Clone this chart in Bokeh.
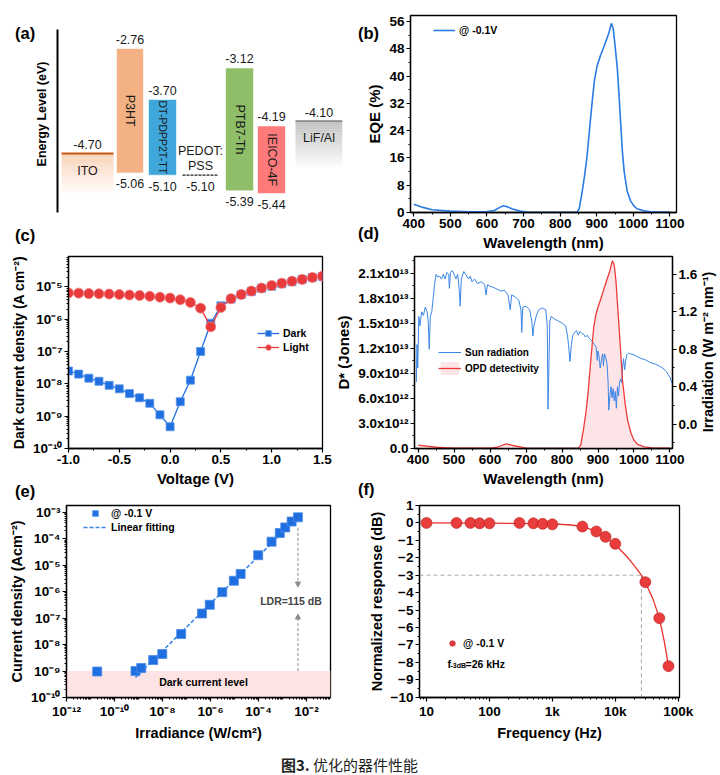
import math
from bokeh.plotting import figure
from bokeh.models import (Range1d, LinearAxis, FixedTicker, CustomJSTickFormatter,
                          PrintfTickFormatter, Label, Legend, LegendItem, BoxAnnotation,
                          Arrow, NormalHead, Div)
from bokeh.layouts import column, row
from bokeh.embed import file_html
from bokeh.resources import INLINE
from bokeh.core.properties import value

FONT = "Liberation Sans"

# ---------------- data ----------------
# (a) energy levels (eV)
semi_names = ["P3HT", "DT-PDPP2T-TT", "PTB7-Th", "IEICO-4F"]
semi_lumo = [-2.76, -3.70, -3.12, -4.19]
semi_homo = [-5.06, -5.10, -5.39, -5.44]
ito_level = -4.70
pedot_level = -5.10
lif_level = -4.10

# (b) EQE at -0.1 V
eqe_wl = [400, 425, 450, 500, 550, 600, 620, 635, 645, 655,
          670, 690, 710, 800, 845, 852, 860, 867, 873, 880,
          888, 894, 901, 910, 920, 933, 940, 945, 950, 956,
          960, 965, 970, 975, 983, 992, 1001, 1010, 1029, 1050,
          1100]
eqe_val = [2.4, 1.5, 0.8, 0.4, 0.2, 0.3, 0.6, 1.5, 2.0, 1.7,
           1.0, 0.4, 0.1, 0.05, 0.1, 1.0, 6.0, 11, 16, 24,
           33, 39, 43, 46, 48.8, 52.6, 55.5, 54, 49, 42.6,
           36, 27, 18, 12, 6.4, 3.5, 2.0, 1.1, 0.5, 0.15,
           0.1]

# (c) J-V
volt = [-1.0, -0.9, -0.8, -0.7, -0.6, -0.5, -0.4, -0.3, -0.2, -0.1, 0.0, 0.1, 0.2,
        0.3, 0.4, 0.5, 0.6, 0.7, 0.8, 0.9, 1.0, 1.1, 1.2, 1.3, 1.4, 1.5]
j_dark = [2.5e-8, 2.0e-8, 1.5e-8, 1.2e-8, 9.0e-9, 7.0e-9, 5.0e-9, 3.7e-9, 2.5e-9, 1.1e-9,
          4.7e-10, 2.8e-9, 1.3e-8, 1.0e-7, 7.5e-7, 2.6e-6, 4.2e-6, 5.8e-6, 7.2e-6, 9.0e-6,
          1.05e-5, 1.25e-5, 1.45e-5, 1.7e-5, 1.95e-5, 2.1e-5]
j_light = [6.5e-6, 6.4e-6, 6.2e-6, 6.1e-6, 6.0e-6, 5.8e-6, 5.6e-6, 5.4e-6, 5.1e-6, 4.8e-6,
           4.5e-6, 4.0e-6, 3.3e-6, 2.2e-6, 5.8e-7, 2.3e-6, 4.3e-6, 5.8e-6, 7.4e-6, 9.2e-6,
           1.1e-5, 1.3e-5, 1.5e-5, 1.7e-5, 1.95e-5, 2.15e-5]

# (d) sun spectrum (W m-2 nm-1) and detectivity (Jones)
sun_wl = [395, 397, 399, 402, 405, 410, 415, 420, 425, 428,
          431, 434, 438, 442, 446, 450, 455, 460, 465, 470,
          475, 480, 485, 487, 490, 495, 500, 505, 510, 514,
          517, 520, 527, 532, 540, 545, 550, 557, 565, 575,
          585, 589, 593, 600, 610, 620, 630, 640, 650, 656,
          660, 670, 680, 686, 688, 691, 700, 710, 716, 719,
          722, 728, 735, 745, 755, 759, 761, 763, 766, 770,
          780, 790, 800, 810, 815, 818, 822, 826, 830, 835,
          840, 845, 850, 855, 860, 865, 870, 875, 880, 885,
          890, 895, 898, 900, 903, 906, 910, 913, 915, 918,
          921, 925, 928, 930, 933, 936, 939, 942, 945, 948,
          951, 954, 957, 960, 963, 966, 968, 971, 974, 977,
          980, 985, 990, 1000, 1010, 1020, 1030, 1040, 1050, 1060,
          1070, 1080, 1090, 1095, 1100, 1105]
sun_irr = [0.45, 0.85, 0.60, 1.15, 1.05, 1.20, 1.16, 1.25, 1.20, 1.10,
           0.80, 1.15, 1.20, 1.35, 1.50, 1.60, 1.57, 1.58, 1.55, 1.60,
           1.55, 1.62, 1.60, 1.45, 1.62, 1.64, 1.60, 1.55, 1.60, 1.45,
           1.26, 1.55, 1.63, 1.60, 1.55, 1.58, 1.52, 1.55, 1.50, 1.52,
           1.49, 1.38, 1.49, 1.47, 1.46, 1.44, 1.42, 1.43, 1.38, 1.22,
           1.38, 1.36, 1.32, 1.22, 0.98, 1.25, 1.26, 1.22, 1.10, 0.94,
           1.05, 1.15, 1.22, 1.24, 1.22, 1.05, 0.16, 0.50, 1.10, 1.15,
           1.12, 1.10, 1.08, 1.05, 0.95, 0.85, 0.67, 0.85, 0.95, 0.98,
           1.00, 0.95, 0.99, 0.97, 0.96, 0.93, 0.95, 0.92, 0.90, 0.88,
           0.85, 0.82, 0.68, 0.78, 0.72, 0.60, 0.70, 0.75, 0.62, 0.75,
           0.72, 0.65, 0.45, 0.15, 0.30, 0.40, 0.28, 0.38, 0.25, 0.35,
           0.17, 0.40, 0.30, 0.45, 0.48, 0.44, 0.60, 0.70, 0.58, 0.68,
           0.74, 0.76, 0.75, 0.74, 0.72, 0.70, 0.69, 0.67, 0.65, 0.64,
           0.62, 0.60, 0.56, 0.53, 0.50, 0.44]
dstar_wl = [400, 450, 500, 600, 620, 645, 670, 700, 800, 845,
            852, 860, 867, 873, 880, 888, 894, 899, 910, 917,
            933, 940, 945, 950, 954, 960, 968, 975, 982, 992,
            1000, 1010, 1029, 1050, 1100]
dstar_val = [0.4e12, 0.15e12, 0.05e12, 0.05e12, 0.15e12, 0.55e12, 0.3e12, 0.05e12, 0.02e12, 0.05e12,
             0.4e12, 2.4e12, 4.5e12, 7.0e12, 10.6e12, 14.5e12, 16.0e12, 16.8e12, 18.2e12, 19.2e12,
             21.3e12, 22.5e12, 22.0e12, 20.0e12, 17.4e12, 13.5e12, 8.2e12, 5.5e12, 3.4e12, 1.8e12,
             1.0e12, 0.5e12, 0.2e12, 0.06e12, 0.04e12]

# (e) LDR
irr = [1.9e-11, 7.5e-10, 1.3e-9, 4.1e-9, 9.8e-9, 6.0e-8, 4.4e-7, 9.3e-7, 3.1e-6,
       9.4e-6, 1.8e-5, 9.7e-5, 3.5e-4, 7.7e-4, 1.3e-3, 2.4e-3, 4.4e-3]
j_irr = [9.6e-10, 1.0e-9, 1.3e-9, 2.6e-9, 4.4e-9, 2.5e-8, 1.5e-7, 3.2e-7, 9.6e-7,
         2.6e-6, 4.7e-6, 2.4e-5, 7.8e-5, 1.66e-4, 2.7e-4, 4.5e-4, 6.5e-4]
fit_irr = [7.5e-10, 4.4e-3]
fit_j = [5.7e-10, 6.5e-4]
dark_level = 1e-9
ldr_text = "LDR=115 dB"

# (f) frequency response
freq = [10, 30, 50, 70, 100, 300, 500, 700, 1000, 3000, 5000, 7000, 10000, 30000, 50000, 70000]
resp = [0.0, 0.0, 0.0, -0.02, -0.02, 0.0, -0.02, -0.05, -0.08, -0.21, -0.49, -0.8, -1.2, -3.4, -5.47, -8.22]
fit_f = [10, 100, 1000, 2000, 3000, 5000, 7000, 10000, 15000, 20000, 26000, 30000, 40000, 50000, 60000, 70000]
fit_db = [0.0, -0.01, -0.06, -0.12, -0.21, -0.47, -0.8, -1.25, -1.9, -2.45, -3.0, -3.4, -4.4, -5.45, -6.8, -8.22]
f3db = 26000
f3db_level = -3

# ---------------- helpers ----------------
SUP_JS = """
const S = {"-":"\u207b","0":"\u2070","1":"\u00b9","2":"\u00b2","3":"\u00b3","4":"\u2074",
           "5":"\u2075","6":"\u2076","7":"\u2077","8":"\u2078","9":"\u2079"};
function sup(n) { return String(n).split("").map(c => S[c]).join(""); }
"""


def log_fmt():
    return CustomJSTickFormatter(code=SUP_JS + "return '10' + sup(Math.round(Math.log10(tick)));")


def decade_minors(lo, hi, skip_even_major=False):
    out = []
    for n in range(lo, hi + 1):
        for k in range(1, 10):
            if k == 1 and (not skip_even_major or n % 2 == 0):
                continue
            out.append(k * 10.0 ** n)
    return out


def make_fig(w, h, l, r, t, b, **kw):
    p = figure(width=w, height=h, min_border_left=l, min_border_right=r,
               min_border_top=t, min_border_bottom=b,
               output_backend="svg", toolbar_location=None, **kw)
    p.grid.visible = False
    p.outline_line_color = "black"
    p.outline_line_width = 1.3
    return p


def style_axis(ax, label, tick_size="13.5px", label_size="15px"):
    ax.axis_label = label
    ax.axis_label_text_font = FONT
    ax.axis_label_text_font_style = "bold"
    ax.axis_label_text_font_size = label_size
    ax.axis_label_text_color = "black"
    ax.axis_label_standoff = 3
    ax.major_label_text_font = FONT
    ax.major_label_text_font_style = "bold"
    ax.major_label_text_font_size = tick_size
    ax.major_label_text_color = "black"
    ax.major_label_standoff = 2
    ax.axis_line_width = 1.3
    ax.major_tick_line_width = 1.2
    ax.minor_tick_line_width = 1
    ax.major_tick_out = 4
    ax.major_tick_in = 0
    ax.minor_tick_out = 2
    ax.minor_tick_in = 0


def screen_text(p, txt, x, y, size="10.5px", bold=True, align="left", color="black"):
    p.add_layout(Label(x=x, y=y, x_units="screen", y_units="screen", text=txt,
                       text_font=FONT, text_font_style="bold" if bold else "normal",
                       text_font_size=size, text_baseline="middle", text_align=align,
                       text_color=color))


def make_legend(items, loc, glyph_w=22, size="10.5px", row_h=14):
    return Legend(items=items, location=loc, orientation="vertical",
                  border_line_alpha=0, background_fill_alpha=0, padding=0, margin=0,
                  spacing=0, label_standoff=4, glyph_width=glyph_w, glyph_height=row_h,
                  label_height=row_h, label_text_font=FONT, label_text_font_style="bold",
                  label_text_font_size=size, label_text_color="black")


# ---------------- (a) energy diagram ----------------
pa = make_fig(346, 253, 57, 4, 15, 41, x_range=Range1d(0, 285),
              y_range=Range1d(-5.79, -2.15), x_axis_type=None)
pa.outline_line_color = None
ya = pa.yaxis[0]
style_axis(ya, "Energy Level (eV)", label_size="12.5px")
ya.ticker = FixedTicker(ticks=[])
ya.major_label_standoff = 0
ya.axis_label_standoff = 9
ya.axis_line_width = 2
ya.bounds = (-5.79, -2.41)

# layout slots (horizontal positions in the schematic)
semi_left = [59, 91, 168, 200]
semi_right = [86, 119, 196, 228]
semi_colors = ["#f4b183", "#3fa7dc", "#8fbe68", "#ff7b7b"]
semi_label_size = ["12.5px", "10.5px", "12.5px", "12.5px"]
ito_x = (4, 56)
pedot_x = (125, 161)
lif_x = (238, 285)

n_steps = 16
for (x0, x1), lvl, col, depth in [(ito_x, ito_level, "#f8cbad", 0.75), (lif_x, lif_level, "#b8b8b8", 0.85)]:
    tops = [lvl - depth * i / n_steps for i in range(n_steps)]
    bots = [lvl - depth * (i + 1) / n_steps for i in range(n_steps)]
    alphas = [0.85 * (1 - i / n_steps) for i in range(n_steps)]
    pa.quad(left=x0, right=x1, top=tops, bottom=bots, fill_color=col, fill_alpha=alphas, line_alpha=0)
pa.segment(x0=ito_x[0], x1=ito_x[1], y0=ito_level, y1=ito_level, line_color="#c55a11", line_width=2)
pa.segment(x0=lif_x[0], x1=lif_x[1], y0=lif_level, y1=lif_level, line_color="#808080", line_width=1.5)
pa.segment(x0=pedot_x[0], x1=pedot_x[1], y0=pedot_level, y1=pedot_level, line_color="#222222",
           line_width=1.3, line_dash="3 1")

pa.quad(left=semi_left, right=semi_right, top=semi_lumo, bottom=semi_homo,
        fill_color=semi_colors, line_color="white", line_alpha=0.6, line_width=1)

cx = [(l + r) / 2 for l, r in zip(semi_left, semi_right)]
mid = [(t + b) / 2 for t, b in zip(semi_lumo, semi_homo)]
txt_kw = dict(text_font=value(FONT), text_align="center", text_baseline="middle", text_color="#1a1a1a")
pa.text(x=cx, y=mid, text=semi_names, angle=-math.pi / 2, text_font_size=semi_label_size, **txt_kw)
pa.text(x=cx, y=semi_lumo, text=[f"{v:.2f}" for v in semi_lumo], y_offset=-9, text_font_size="12.5px", **txt_kw)
pa.text(x=cx, y=semi_homo, text=[f"{v:.2f}" for v in semi_homo], y_offset=11, text_font_size="12.5px", **txt_kw)

ex = [(ito_x[0] + ito_x[1]) / 2, (pedot_x[0] + pedot_x[1]) / 2, (lif_x[0] + lif_x[1]) / 2]
pa.text(x=[ex[0], ex[2]], y=[ito_level, lif_level], text=[f"{ito_level:.2f}", f"{lif_level:.2f}"],
        y_offset=-9, text_font_size="12.5px", **txt_kw)
pa.text(x=[ex[1]], y=[pedot_level], text=[f"{pedot_level:.2f}"], y_offset=11, text_font_size="12.5px", **txt_kw)
pa.text(x=[ex[0], ex[2]], y=[ito_level, lif_level], text=["ITO", "LiF/Al"], y_offset=17,
        text_font_size="12.5px", **txt_kw)
pa.text(x=[ex[1], ex[1]], y=[pedot_level, pedot_level], text=["PEDOT:", "PSS"], y_offset=[-24, -9],
        text_font_size="12.5px", **txt_kw)

# ---------------- (b) EQE ----------------
pb = make_fig(374, 253, 64, 44, 15, 41, x_range=Range1d(391, 1118), y_range=Range1d(0, 57.8))
style_axis(pb.xaxis[0], "Wavelength (nm)")
style_axis(pb.yaxis[0], "EQE (%)")
pb.xaxis[0].ticker = FixedTicker(ticks=list(range(400, 1101, 100)), minor_ticks=list(range(450, 1101, 100)))
pb.yaxis[0].ticker = FixedTicker(ticks=list(range(0, 57, 8)), minor_ticks=list(range(4, 57, 8)))
lb = pb.line(eqe_wl, eqe_val, line_color="#2a7be4", line_width=1.6)
pb.add_layout(make_legend([LegendItem(label="@ -0.1V", renderers=[lb])], (23, 175)))

# ---------------- (c) J-V ----------------
pc = make_fig(332, 236, 68, 10, 3, 41, x_range=Range1d(-1.0, 1.5),
              y_range=Range1d(1e-10, 10 ** -4.06), y_axis_type="log")
style_axis(pc.xaxis[0], "Voltage (V)")
style_axis(pc.yaxis[0], "Dark current density (A cm\u207b\u00b2)", label_size="14px")
pc.xaxis[0].ticker = FixedTicker(ticks=[-1.0, -0.5, 0.0, 0.5, 1.0, 1.5],
                                 minor_ticks=[-0.75, -0.25, 0.25, 0.75, 1.25])
pc.xaxis[0].formatter = PrintfTickFormatter(format="%.1f")
pc.yaxis[0].ticker = FixedTicker(ticks=[10.0 ** n for n in range(-10, -4)], minor_ticks=decade_minors(-10, -5))
pc.yaxis[0].formatter = log_fmt()
blue = "#1f6fe0"
red = "#e8393b"
dl = pc.line(volt, j_dark, line_color=blue, line_width=1.3)
ds = pc.scatter(volt, j_dark, marker="square", size=8, fill_color=blue, line_color="#5a95ea", line_width=0.8)
ll = pc.line(volt, j_light, line_color=red, line_width=1.3)
ls = pc.scatter(volt, j_light, marker="circle", size=10, fill_color=red, line_color="#f07a7b", line_width=0.8)
pc.add_layout(make_legend([LegendItem(label="Dark", renderers=[dl, ds]),
                           LegendItem(label="Light", renderers=[ll, ls])], (189, 94)))

# ---------------- (d) D* and sun ----------------
pd = make_fig(388, 236, 81, 48, 3, 41, x_range=Range1d(390, 1107), y_range=Range1d(0, 2.3e13))
pd.extra_y_ranges = {"irr": Range1d(-0.26, 1.79)}
style_axis(pd.xaxis[0], "Wavelength (nm)")
style_axis(pd.yaxis[0], "D* (Jones)")
pd.xaxis[0].ticker = FixedTicker(ticks=list(range(400, 1101, 100)), minor_ticks=list(range(450, 1101, 100)))
pd.yaxis[0].ticker = FixedTicker(ticks=[k * 3e12 for k in range(8)], minor_ticks=[1.5e12 + k * 3e12 for k in range(8)])
pd.yaxis[0].formatter = CustomJSTickFormatter(code=SUP_JS + """
if (Math.abs(tick) < 1) return "0.0";
const e = Math.floor(Math.log10(tick) + 1e-9);
const m = tick / Math.pow(10, e);
return m.toFixed(1) + "x10" + sup(e);
""")
rax = LinearAxis(y_range_name="irr")
style_axis(rax, "")
rax.ticker = FixedTicker(ticks=[0.0, 0.4, 0.8, 1.2, 1.6], minor_ticks=[-0.2, 0.2, 0.6, 1.0, 1.4])
rax.formatter = PrintfTickFormatter(format="%.1f")
pd.add_layout(rax, "right")
opd_fill = pd.varea(x=dstar_wl, y1=0, y2=dstar_val, fill_color="#fde4e6")
sun = pd.line(sun_wl, sun_irr, y_range_name="irr", line_color="#3a86e6", line_width=1)
opd_line = pd.line(dstar_wl, dstar_val, line_color="#ee3a3a", line_width=1.3)
pd.add_layout(make_legend([LegendItem(label="Sun radiation", renderers=[sun]),
                           LegendItem(label="OPD detectivity", renderers=[opd_fill, opd_line])],
                          (24, 72), glyph_w=23, size="10px", row_h=16))

# ---------------- (e) LDR ----------------
pe = make_fig(346, 256, 66, 16, 16, 48, x_axis_type="log", y_axis_type="log",
              x_range=Range1d(1e-12, 1e-1), y_range=Range1d(1e-10, 10 ** -2.74))
style_axis(pe.xaxis[0], "Irradiance (W/cm\u00b2)", label_size="14.5px")
style_axis(pe.yaxis[0], "Current density (Acm\u207b\u00b2)", label_size="14.5px")
pe.xaxis[0].ticker = FixedTicker(ticks=[10.0 ** n for n in range(-12, -1, 2)],
                                 minor_ticks=decade_minors(-12, -2, skip_even_major=True))
pe.xaxis[0].formatter = log_fmt()
pe.yaxis[0].ticker = FixedTicker(ticks=[10.0 ** n for n in range(-10, -2)], minor_ticks=decade_minors(-10, -3))
pe.yaxis[0].formatter = log_fmt()
pe.add_layout(BoxAnnotation(bottom=1e-10, top=dark_level, fill_color="#fde3e3", fill_alpha=1,
                            line_alpha=0, level="underlay"))
ldr_y = 4.3e-7
grey = "#8a8a8a"
pe.add_layout(Arrow(end=NormalHead(size=5, fill_color=grey, line_color=grey),
                    x_start=irr[-1], y_start=j_irr[-1] / 2.5, x_end=irr[-1], y_end=ldr_y * 3.5,
                    line_color=grey, line_dash="3 2", line_width=1))
pe.add_layout(Arrow(end=NormalHead(size=5, fill_color=grey, line_color=grey),
                    x_start=irr[-1], y_start=dark_level, x_end=irr[-1], y_end=ldr_y / 3.0,
                    line_color=grey, line_dash="3 2", line_width=1))
fl = pe.line(fit_irr, fit_j, line_color="#3a86e6", line_width=1.6, line_dash="4 2")
es = pe.scatter(irr, j_irr, marker="square", size=9, fill_color=blue, line_color="#4a8ae8", line_width=0.8)
pe.add_layout(Label(x=irr[-1], y=ldr_y, text=ldr_text, x_offset=-7, text_font=FONT, text_font_style="bold",
                    text_font_size="10.5px", text_align="center", text_baseline="middle"))
screen_text(pe, "Dark current level", 137, 16, align="center")
pe.add_layout(make_legend([LegendItem(label="@ -0.1 V", renderers=[es]),
                           LegendItem(label="Linear fitting", renderers=[fl])], (17, 163), glyph_w=24))

# ---------------- (f) frequency response ----------------
pf = make_fig(374, 256, 73, 41, 16, 48, x_axis_type="log",
              x_range=Range1d(10 ** 0.889, 10 ** 5.02), y_range=Range1d(-10.02, 1.0))
style_axis(pf.xaxis[0], "Frequency (Hz)", label_size="14.5px")
style_axis(pf.yaxis[0], "Normalized response (dB)", label_size="14.5px")
pf.xaxis[0].ticker = FixedTicker(ticks=[10, 100, 1000, 10000, 100000], minor_ticks=decade_minors(0, 4))
pf.xaxis[0].formatter = CustomJSTickFormatter(
    code="if (tick >= 1000) return (tick/1000).toFixed(0) + 'k'; return tick.toFixed(0);")
pf.yaxis[0].ticker = FixedTicker(ticks=list(range(-10, 2)), minor_ticks=[k + 0.5 for k in range(-10, 1)])
gl = "#a8a8a8"
pf.line([pf.x_range.start, f3db], [f3db_level, f3db_level], line_color=gl, line_dash="4 3", line_width=1)
pf.line([f3db, f3db], [f3db_level, pf.y_range.start], line_color=gl, line_dash="4 3", line_width=1)
pf.line(fit_f, fit_db, line_color="#e8302d", line_width=1.3)
fs = pf.scatter(freq, resp, marker="circle", size=11, fill_color="#e93c3c", line_color="#b52020", line_width=0.6)
pf.add_layout(make_legend([LegendItem(label="@ -0.1 V", renderers=[fs])], (26, 47), glyph_w=14))
screen_text(pf, "f", 28, 34)
screen_text(pf, "-3dB", 31, 32, size="7px")
screen_text(pf, "=26 kHz", 46, 34)

# ---------------- panel letters, right title of (d), caption (overlay div) ----------------
CAP_TOP = 745   # top of this div in the page
panel_letters = [("(a)", 15, 33), ("(b)", 358, 33), ("(c)", 15, 235),
                 ("(d)", 358, 233), ("(e)", 15, 491), ("(f)", 358, 489)]
spans = "".join(
    f'<div style="position:absolute;left:{x}px;top:{y - 10 - CAP_TOP}px;height:20px;line-height:20px;'
    f'font-family:\'{FONT}\',sans-serif;font-weight:bold;font-size:16.5px;color:black;'
    f'white-space:nowrap;">{t}</div>'
    for t, x, y in panel_letters)
right_title = (f'<div style="position:absolute;left:708px;top:{352 - CAP_TOP}px;'
               f'transform:translate(-50%,-50%) rotate(-90deg);white-space:nowrap;'
               f'font-family:\'{FONT}\',sans-serif;font-weight:bold;font-size:14.5px;line-height:17px;color:black;">'
               'Irradiation (W m\u207b\u00b2 nm\u207b\u00b9)</div>')
caption = ('<div style="position:absolute;left:281px;top:12px;height:16px;line-height:16px;'
           'font-family:\'Noto Sans CJK SC\',sans-serif;font-size:15px;color:#222;white-space:nowrap;">'
           '<b>图3.</b> 优化的器件性能</div>')
cap = Div(text=f'<div style="position:relative;width:720px;height:28px;z-index:10;">{spans}{right_title}{caption}</div>',
          width=720, height=28, margin=0, styles={"overflow": "visible", "z-index": "10"})

layout = column(row(pa, pb), row(pc, pd), row(pe, pf), cap)
html = file_html(layout, INLINE, "Figure 3")
with open("out.html", "w", encoding="utf-8") as f:
    f.write(html)
